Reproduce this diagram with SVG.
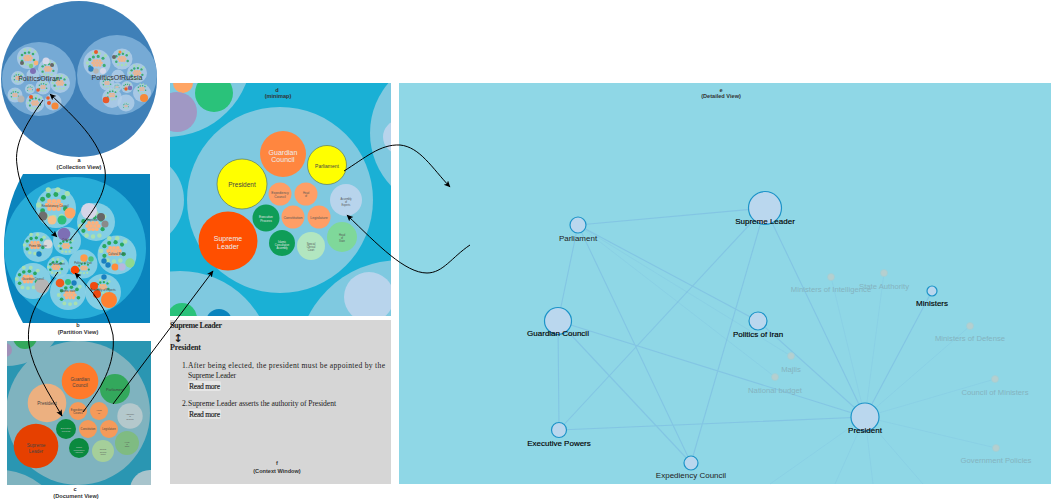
<svg xmlns="http://www.w3.org/2000/svg" width="1051" height="504" viewBox="0 0 1051 504">
<style>
text{font-family:"Liberation Sans",Arial,sans-serif;text-anchor:middle}
.cap{font-size:5.6px;font-weight:bold;fill:#333}
.bub-a{fill:#b4d0e8;fill-opacity:.8}
.bub-b{fill:#8ed2e6;fill-opacity:.9}
.edge{stroke:#7fc0e2;stroke-width:1.1;fill:none;opacity:.8}
.edge2{stroke:#7fc0e2;stroke-width:1;fill:none;opacity:.3}
.n circle{fill:#bad7ee;stroke:#1c93c8;stroke-width:1.2}
.n text{font-size:8px;fill:#000;stroke:#000;stroke-width:.15}
.n .soft{stroke:none;fill:#222}
.g circle{fill:#b5cfcf;stroke:#9fcfd6;stroke-width:.8}
.g text{font-size:7.7px;fill:#84b3bf}
.ser{font-family:"Liberation Serif",serif;text-anchor:start;font-size:7.6px;fill:#222}
.arrow{fill:none;stroke:#000;stroke-width:1}
.m text{fill:#555;font-size:2.6px}
.m .w{fill:#eee;font-size:7px}
</style>
<defs>
<marker id="ah" markerWidth="7" markerHeight="7" refX="6" refY="3" orient="auto" markerUnits="userSpaceOnUse"><path d="M0,0L6.5,3L0,6L1.5,3z" fill="#000"/></marker>
<clipPath id="cb"><path d="M23,174H150V323H23C10,300 4,275 4,248C4,222 10,197 23,174z"/></clipPath>
<clipPath id="cc"><rect x="7" y="341" width="144" height="144"/></clipPath>
<clipPath id="cd"><rect x="170" y="83" width="221" height="233"/></clipPath>
<g id="dots">
<g fill="#ffb07a"><circle cx="-2.4" cy="-2" r="1.2"/><circle cx="0" cy="-2" r="1.2"/><circle cx="2.4" cy="-2" r="1.2"/><circle cx="-3.6" cy="0" r="1.2"/><circle cx="-1.2" cy="0" r="1.2"/><circle cx="1.2" cy="0" r="1.2"/><circle cx="3.6" cy="0" r="1.2"/><circle cx="-2.4" cy="2" r="1.2"/><circle cx="0" cy="2" r="1.2"/><circle cx="2.4" cy="2" r="1.2"/></g>
<g fill="#2aa85f"><circle cx="-6" cy="-3" r="1.3"/><circle cx="-3" cy="-5" r="1.3"/><circle cx="1" cy="-5.5" r="1.3"/><circle cx="5" cy="-4" r="1.3"/><circle cx="-6" cy="3" r="1.3"/><circle cx="6" cy="2" r="1.3"/></g>
<g fill="#a8e0b0"><circle cx="-8" cy="0" r="1.4"/><circle cx="-4" cy="6" r="1.4"/><circle cx="0" cy="6.5" r="1.4"/><circle cx="4" cy="6" r="1.4"/><circle cx="-3" cy="-8" r="1.4"/><circle cx="2" cy="-8" r="1.4"/><circle cx="7" cy="-6" r="1.4"/></g>
</g>
</defs>

<g id="collection-view">
<circle cx="79" cy="79" r="78" fill="#3f80b8"/>
<circle cx="39" cy="79" r="37" fill="#76aad5"/>
<circle cx="117" cy="75" r="40" fill="#76aad5"/>
<g class="bub-a">
<circle cx="28" cy="58" r="11"/><circle cx="48" cy="69" r="10"/><circle cx="60" cy="83" r="10"/><circle cx="18" cy="78" r="7"/><circle cx="15" cy="95" r="7.5"/><circle cx="35" cy="103" r="9.5"/><circle cx="43" cy="87" r="7.5"/><circle cx="30" cy="89" r="5"/><circle cx="53" cy="102" r="8.5"/><circle cx="33" cy="75" r="6.5"/>
<circle cx="97" cy="63" r="13.5"/><circle cx="122" cy="59" r="10.5"/><circle cx="137" cy="73" r="10"/><circle cx="118" cy="76" r="6.5"/><circle cx="107" cy="83" r="7.5"/><circle cx="117" cy="87" r="4.5"/><circle cx="127" cy="87" r="6"/><circle cx="142" cy="93" r="9"/><circle cx="112" cy="98" r="10"/><circle cx="126" cy="103" r="8.5"/>
</g>
<g opacity=".85">
<use href="#dots" transform="translate(28,58) scale(1)"/><use href="#dots" transform="translate(48,69) scale(.9)"/><use href="#dots" transform="translate(60,83) scale(.9)"/><use href="#dots" transform="translate(18,78) scale(.6)"/><use href="#dots" transform="translate(15,95) scale(.6)"/><use href="#dots" transform="translate(35,103) scale(.85)"/><use href="#dots" transform="translate(43,87) scale(.6)"/><use href="#dots" transform="translate(30,89) scale(.4)"/>
<use href="#dots" transform="translate(97,63) scale(1.2)"/><use href="#dots" transform="translate(122,59) scale(.95)"/><use href="#dots" transform="translate(137,73) scale(.9)"/><use href="#dots" transform="translate(107,83) scale(.6)"/><use href="#dots" transform="translate(117,87) scale(.35)"/><use href="#dots" transform="translate(127,87) scale(.5)"/><use href="#dots" transform="translate(142,89) scale(.6)"/><use href="#dots" transform="translate(112,95) scale(.7)"/><use href="#dots" transform="translate(126,106) scale(.4)"/>
</g>
<circle cx="55" cy="106" r="3.6" fill="#f5893a"/><circle cx="49" cy="103" r="2" fill="#e8592a"/><circle cx="48" cy="98" r="1.8" fill="#e8592a"/><circle cx="33" cy="71" r="3" fill="#7d6fb5"/><circle cx="46" cy="61" r="3.5" fill="#d5d8ea"/><circle cx="52" cy="65" r="2" fill="#666"/><circle cx="36" cy="63" r="2.4" fill="#f7b27a"/><circle cx="22" cy="63" r="2" fill="#666"/><circle cx="31" cy="66" r="2.2" fill="#7fc97f"/><circle cx="21" cy="99" r="3.5" fill="#b5b5b5"/><circle cx="38" cy="90" r="1.8" fill="#e8592a"/><circle cx="31" cy="97" r="2" fill="#e8592a"/>
<circle cx="144" cy="98" r="4" fill="#f5893a"/><circle cx="106" cy="100" r="3.3" fill="#e8592a"/><circle cx="96" cy="52" r="2" fill="#e8592a"/><circle cx="91" cy="69" r="2.7" fill="#2f7fc0"/><circle cx="103" cy="71" r="3" fill="#d5d8ea"/><circle cx="96" cy="71" r="2.7" fill="#b5b5b5"/><circle cx="130" cy="88" r="2.3" fill="#7d6fb5"/><circle cx="126" cy="89" r="1.7" fill="#e8592a"/><circle cx="120" cy="52" r="1.5" fill="#f5893a"/><circle cx="114" cy="57" r="2" fill="#666"/>
<text x="39" y="80.5" font-size="7" fill="#333">PoliticsOfIran</text>
<text x="117" y="80" font-size="7" fill="#333">PoliticsOfRussia</text>
<text class="cap" x="79" y="162">a</text>
<text class="cap" x="79" y="169">(Collection View)</text>
</g>

<g id="partition-view">
<g clip-path="url(#cb)">
<rect x="0" y="170" width="150" height="155" fill="#0a84bd"/>
<circle cx="75" cy="248" r="71" fill="#27acd8"/>
<g class="bub-b">
<circle cx="56" cy="208" r="20"/><circle cx="96" cy="222" r="19"/><circle cx="38" cy="247" r="15"/><circle cx="67" cy="241" r="14"/><circle cx="117" cy="255" r="19.5"/><circle cx="58" cy="267" r="11"/><circle cx="83" cy="264" r="14.5"/><circle cx="33" cy="281" r="18"/><circle cx="68" cy="292" r="18"/><circle cx="103" cy="292" r="18"/>
</g>
<use href="#dots" transform="translate(54,205) scale(1.9)"/><use href="#dots" transform="translate(93,226) scale(1.6)"/><use href="#dots" transform="translate(35,245) scale(1.3)"/><use href="#dots" transform="translate(66,246) scale(.9)"/><use href="#dots" transform="translate(114,251) scale(1.6)"/><use href="#dots" transform="translate(56,267) scale(.95)"/><use href="#dots" transform="translate(84,268) scale(.8)"/><use href="#dots" transform="translate(28,279) scale(1.4)"/><use href="#dots" transform="translate(70,295) scale(1.4)"/><use href="#dots" transform="translate(103,287) scale(.9)"/>
<circle cx="43" cy="216" r="4.5" fill="#6e6e6e"/><circle cx="70" cy="213" r="5.5" fill="#ffa564"/><circle cx="52" cy="220" r="4.5" fill="#f5c08a"/><circle cx="62" cy="220" r="4.5" fill="#2dbf7a"/>
<circle cx="89" cy="211" r="8" fill="#d5d5e8"/><circle cx="101" cy="217" r="4" fill="#666"/><circle cx="105" cy="224" r="3.5" fill="#8a8a8a"/>
<circle cx="48" cy="244" r="4.5" fill="#d9d9d9"/><circle cx="39" cy="254" r="2.7" fill="#1a7fc0"/>
<circle cx="64" cy="234" r="6.3" fill="#7d6fb5"/>
<circle cx="130" cy="263" r="4.7" fill="#8fd98f"/><circle cx="115" cy="267" r="3.5" fill="#ff8c3a"/><circle cx="122" cy="267" r="3.7" fill="#b8b8dd"/><circle cx="104" cy="261" r="2.7" fill="#1a7fc0"/><circle cx="108" cy="265" r="2.7" fill="#1a7fc0"/>
<circle cx="84" cy="258" r="3.7" fill="#ff9a4a"/><circle cx="75" cy="270" r="4.3" fill="#ff4500"/><circle cx="91" cy="259" r="2.7" fill="#4cc07a"/>
<circle cx="42" cy="286" r="7.3" fill="#b5b5b5"/>
<circle cx="60" cy="283" r="4.3" fill="#f05a1e"/><circle cx="68" cy="282" r="3" fill="#2dbf7a"/><circle cx="74" cy="283" r="2.7" fill="#1a7fc0"/>
<circle cx="109" cy="300" r="8" fill="#ff8030"/><circle cx="94" cy="286" r="4" fill="#f04a10"/><circle cx="97" cy="294" r="4" fill="#f04a10"/><circle cx="104" cy="277" r="2.7" fill="#1a7fc0"/>
<g fill="#444" font-size="2.8">
<text x="55" y="207">Revolutionary Council</text><text x="92" y="221">Supreme</text><text x="38" y="247">Prime Minister</text><text x="67" y="241">Cabinet</text><text x="117" y="255">Cultural Bullet</text><text x="58" y="265">Parliament</text><text x="83" y="264">Politics of Iran</text><text x="33" y="280">Guardian Council</text><text x="68" y="292">Islamic state</text><text x="103" y="291">Assembly of Experts</text>
</g>
</g>
<text class="cap" x="78" y="327">b</text>
<text class="cap" x="78" y="334">(Partition View)</text>
</g>

<g id="document-view">
<g clip-path="url(#cc)">
<rect x="7" y="341" width="144" height="144" fill="#2a96b2"/>
<circle cx="78" cy="413" r="72" fill="#7fb3bf"/>
<circle cx="7" cy="308" r="58" fill="#7fb3bf"/>
<circle cx="25" cy="337" r="12" fill="#33a85c"/>
<circle cx="5" cy="350" r="7" fill="#a090b8"/>
<circle cx="0" cy="535" r="65" fill="#7fb3bf"/>
<circle cx="150" cy="490" r="20" fill="#a8c4cc"/>
</g>
<circle cx="80" cy="381" r="18.3" fill="#ff7a2b"/><text x="80" y="381" font-size="4.6" fill="#444">Guardian</text><text x="80" y="387" font-size="4.6" fill="#444">Council</text>
<circle cx="115" cy="389" r="15" fill="#33a85c"/><text x="115" y="390.5" font-size="3.8" fill="#444">Parliament</text>
<circle cx="47" cy="403" r="19.3" fill="#ecb080"/><text x="47" y="405" font-size="4.6" fill="#444">President</text>
<circle cx="36" cy="446" r="22.3" fill="#e64000"/><text x="36" y="447" font-size="4.6" fill="#444">Supreme</text><text x="36" y="453" font-size="4.6" fill="#444">Leader</text>
<circle cx="78" cy="411" r="9" fill="#f59a5a"/><text x="78" y="411" font-size="2.8" fill="#444">Expediency</text><text x="78" y="414" font-size="2.8" fill="#444">Council</text>
<circle cx="99" cy="411" r="9" fill="#f59a5a"/><text x="99" y="411" font-size="2.2" fill="#444">Head</text><text x="99" y="413.5" font-size="2.2" fill="#444">of</text>
<circle cx="66" cy="429" r="10" fill="#0a8a3f"/><text x="66" y="429" font-size="2.4" fill="#ccc">Executive</text><text x="66" y="432" font-size="2.4" fill="#ccc">Process</text>
<circle cx="88" cy="429" r="9" fill="#f59a5a"/><text x="88" y="430" font-size="2.8" fill="#444">Constitution</text>
<circle cx="109" cy="429" r="9" fill="#f59a5a"/><text x="109" y="430" font-size="2.8" fill="#444">Legislature</text>
<circle cx="130" cy="416" r="12.7" fill="#b4c8cc"/><text x="130" y="415" font-size="2" fill="#555">Assembly</text><text x="130" y="417" font-size="2" fill="#555">of</text><text x="130" y="419.5" font-size="2" fill="#555">Experts</text>
<circle cx="127" cy="443" r="12" fill="#7fbb82"/><text x="127" y="443" font-size="2" fill="#555">Head</text><text x="127" y="445" font-size="2" fill="#555">of</text><text x="127" y="447" font-size="2" fill="#555">State</text>
<circle cx="103" cy="451" r="11" fill="#a5cf9a"/><text x="103" y="450" font-size="2" fill="#555">Special</text><text x="103" y="452.5" font-size="2" fill="#555">Clerical</text><text x="103" y="455" font-size="2" fill="#555">Court</text>
<circle cx="79" cy="448" r="10" fill="#0a8a3f"/><text x="79" y="448" font-size="2" fill="#ccc">Islamic</text><text x="79" y="450.5" font-size="2" fill="#ccc">Consultative</text><text x="79" y="453" font-size="2" fill="#ccc">Assembly</text>
<text class="cap" x="75" y="491">c</text>
<text class="cap" x="76" y="498">(Document View)</text>
</g>

<g id="minimap">
<g clip-path="url(#cd)">
<rect x="170" y="83" width="221" height="233" fill="#1ab0d5"/>
<circle cx="167" cy="52" r="85" fill="#7fc9e0"/>
<circle cx="183" cy="83" r="10" fill="#ffa564"/>
<circle cx="214" cy="93" r="19" fill="#2ac27a"/>
<circle cx="177" cy="112" r="20" fill="#a098c4"/>
<circle cx="137" cy="200" r="47" fill="#7fc9e0"/>
<circle cx="447" cy="133" r="77" fill="#7fc9e0"/>
<circle cx="400" cy="137" r="17" fill="#b8d4ec"/>
<circle cx="400" cy="363" r="103" fill="#7fc9e0"/>
<circle cx="369" cy="297" r="25" fill="#b8d4ec"/>
<circle cx="180" cy="363" r="92" fill="#7fc9e0"/>
<circle cx="182" cy="318" r="15" fill="#2ac27a"/>
<circle cx="219" cy="322" r="13" fill="#0a84bd"/>
<circle cx="280" cy="200" r="93" fill="#7fc9e0"/>
</g>
<g class="m">
<g id="m-guardian"><circle cx="283" cy="154" r="23" fill="#ff863f"/><text class="w" x="283" y="154.5">Guardian</text><text class="w" x="283" y="162">Council</text></g>
<g id="m-parliament"><circle cx="327" cy="165" r="19.5" fill="#ffff00" stroke="#5a7a60" stroke-width=".7"/><text x="327" y="167.5" style="font-size:5px;fill:#444">Parliament</text></g>
<g id="m-president"><circle cx="242" cy="184" r="25" fill="#ffff00" stroke="#5a7a60" stroke-width=".7"/><text x="242" y="186.5" style="font-size:6.5px;fill:#444">President</text></g>
<g id="m-supreme"><circle cx="228" cy="241" r="29.5" fill="#ff4f00"/><text class="w" x="228" y="241">Supreme</text><text class="w" x="228" y="249">Leader</text></g>
<g id="m-expediency"><circle cx="280" cy="194" r="11.5" fill="#ff9e66"/><text x="280" y="193.5" style="font-size:3.4px">Expediency</text><text x="280" y="198" style="font-size:3.4px">Council</text></g>
<g id="m-head"><circle cx="306" cy="194" r="11.5" fill="#ff9e66"/><text x="306" y="193.5">Head</text><text x="306" y="196.5">of</text></g>
<g id="m-executive"><circle cx="266" cy="218" r="13.5" fill="#0f9d58"/><text x="266" y="218" style="font-size:3.2px;fill:#e8e8e8">Executive</text><text x="266" y="222" style="font-size:3.2px;fill:#e8e8e8">Process</text></g>
<g id="m-constitution"><circle cx="293" cy="217" r="11.5" fill="#ff9e66"/><text x="293" y="218.5" style="font-size:3.6px">Constitution</text></g>
<g id="m-legislature"><circle cx="319" cy="217" r="11.5" fill="#ff9e66"/><text x="319" y="218.5" style="font-size:3.6px">Legislature</text></g>
<g id="m-assembly"><circle cx="346" cy="200" r="16" fill="#b8d4ec"/><text x="346" y="200">Assembly</text><text x="346" y="203">of</text><text x="346" y="206">Experts</text></g>
<g id="m-state"><circle cx="342" cy="237" r="15" fill="#7fd89a"/><text x="342" y="236">Head</text><text x="342" y="239">of</text><text x="342" y="242">State</text></g>
<g id="m-court"><circle cx="311" cy="246" r="14" fill="#b2e6c0"/><text x="311" y="245">Special</text><text x="311" y="248">Clerical</text><text x="311" y="251">Court</text></g>
<g id="m-islamic"><circle cx="282" cy="243" r="13" fill="#0f9d58"/><text x="282" y="243" style="fill:#e8e8e8">Islamic</text><text x="282" y="246" style="fill:#e8e8e8">Consultative</text><text x="282" y="249" style="fill:#e8e8e8">Assembly</text></g>
</g>
<text class="cap" x="277" y="92">d</text>
<text class="cap" x="278" y="98">(minimap)</text>
</g>

<g id="context-window">
<rect x="170" y="320" width="221" height="164" fill="#d6d6d6"/>
<text class="ser" x="170" y="328" font-weight="bold" style="font-size:8px" textLength="52">Supreme Leader</text>
<text x="178" y="341.5" font-size="11" font-weight="bold" fill="#222" style="font-family:'DejaVu Sans',sans-serif">↕</text>
<text class="ser" x="170" y="350" font-weight="bold" style="font-size:8px" textLength="31">President</text>
<text class="ser" x="182" y="368">1.</text>
<text class="ser" x="188" y="368" textLength="197">After being elected, the president must be appointed by the</text>
<text class="ser" x="188" y="378" textLength="48">Supreme Leader</text>
<rect x="188" y="381" width="33" height="10" rx="2" fill="#e6e6e6"/>
<text class="ser" x="189" y="388.5" textLength="31" stroke="#222" stroke-width=".15">Read more</text>
<text class="ser" x="182" y="406">2.</text>
<text class="ser" x="188" y="406" textLength="148">Supreme Leader asserts the authority of President</text>
<rect x="188" y="409" width="33" height="10" rx="2" fill="#e6e6e6"/>
<text class="ser" x="189" y="416.5" textLength="31" stroke="#222" stroke-width=".15">Read more</text>
<text class="cap" x="277" y="465">f</text>
<text class="cap" x="277" y="473">(Context Window)</text>
</g>

<rect id="detailed-view" x="399" y="83" width="652" height="401" fill="#8fd7e6"/>
<text class="cap" x="721" y="92">e</text>
<text class="cap" x="721" y="98">(Detailed View)</text>

<g id="connectors">
<path class="edge" d="M578,225L765,208M578,225L558,321M578,225L691,463M578,225L758,321M765,208L559,430M765,208L691,463M765,208L865,417M558,321L865,417M558,321L559,430M558,321L691,463M559,430L865,417M758,321L865,417M932,291L865,417"/>
<path class="edge2" d="M578,225L791,356M578,225L775,377M831,277L865,417M884,273L865,417M970,326L865,417M995,379L865,417M996,448L865,417M865,417L770,484M865,417L835,484M865,417L873,484M865,417L923,484"/>
</g>

<g class="g" id="n-intelligence"><circle cx="831" cy="277" r="3.5"/><text x="831" y="292">Ministers of Intelligence</text></g>
<g class="g" id="n-state"><circle cx="884" cy="273" r="3.5"/><text x="884" y="289">State Authority</text></g>
<g class="g" id="n-defense"><circle cx="970" cy="326" r="3.5"/><text x="970" y="341">Ministers of Defense</text></g>
<g class="g" id="n-council"><circle cx="995" cy="379" r="3.5"/><text x="995" y="395">Council of Ministers</text></g>
<g class="g" id="n-policies"><circle cx="996" cy="448" r="3.5"/><text x="996" y="463">Government Policies</text></g>
<g class="g" id="n-majlis"><circle cx="791" cy="356" r="3.5"/><text x="791" y="372">Majlis</text></g>
<g class="g" id="n-budget"><circle cx="775" cy="377" r="3.5"/><text x="775" y="393">National budget</text></g>

<g class="n" id="n-parliament"><circle cx="578" cy="225" r="8"/><text class="soft" x="578" y="241">Parliament</text></g>
<g class="n" id="n-supreme"><circle cx="765" cy="208" r="16.5"/><text x="765" y="224">Supreme Leader</text></g>
<g class="n" id="n-guardian"><circle cx="558" cy="321" r="13.5"/><text x="558" y="336">Guardian Council</text></g>
<g class="n" id="n-iran"><circle cx="758" cy="321" r="9"/><text x="758" y="337">Politics of Iran</text></g>
<g class="n" id="n-executive"><circle cx="559" cy="430" r="7.5"/><text x="559" y="446">Executive Powers</text></g>
<g class="n" id="n-expediency"><circle cx="691" cy="463" r="7"/><text class="soft" x="691" y="478">Expediency Council</text></g>
<g class="n" id="n-ministers"><circle cx="932" cy="291" r="5"/><text x="932" y="306">Ministers</text></g>
<g class="n" id="n-president"><circle cx="865" cy="417" r="14"/><text x="865" y="433">President</text></g>

<g id="arrows">
<path class="arrow" marker-end="url(#ah)" d="M43,100C25,125 14,145 17,165C20,195 40,220 57,237"/>
<path class="arrow" marker-end="url(#ah)" d="M70,240C90,215 108,195 105,170C100,140 75,118 50,94"/>
<path class="arrow" marker-end="url(#ah)" d="M58,272C42,295 25,315 29,345C33,370 50,395 62,416"/>
<path class="arrow" marker-end="url(#ah)" d="M83,412C100,390 116,365 113,335C108,310 92,290 75,273"/>
<path class="arrow" marker-end="url(#ah)" d="M113,404L213,271"/>
<path class="arrow" marker-end="url(#ah)" d="M344,171C365,158 380,144 400,145C420,147 432,168 450,187"/>
<path class="arrow" marker-end="url(#ah)" d="M470,245C452,257 443,273 427,273C405,273 378,245 347,215"/>
</g>
</svg>
